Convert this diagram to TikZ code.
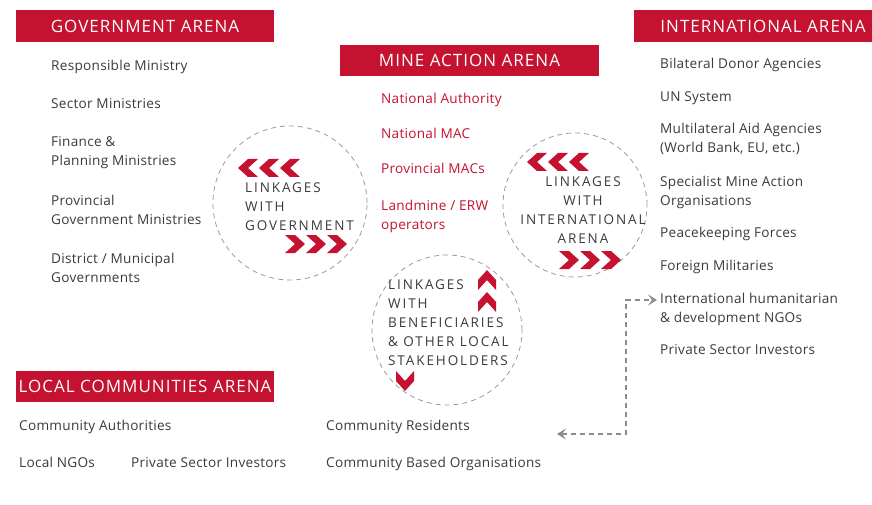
\documentclass[tikz,border=0pt]{standalone}
\usepackage{fontspec}
\setmainfont{Open Sans}
\newfontfamily\hdrfont[LetterSpace=6]{Open Sans}
\newfontfamily\lnkfont[LetterSpace=14]{Open Sans}
\newfontfamily\bodyfont[LetterSpace=2]{Open Sans}
\usetikzlibrary{arrows.meta}
\definecolor{arenared}{HTML}{C41230}
\definecolor{txtgray}{HTML}{3A3A3A}
\definecolor{dashgray}{HTML}{8C8C8C}
\definecolor{circgray}{HTML}{9A9A9A}
\begin{document}
\begin{tikzpicture}[x=1pt,y=-1pt,
  header/.style={fill=arenared, text=white, font=\hdrfont\fontsize{17}{20}\selectfont,
    inner sep=0pt, minimum width=258pt, minimum height=32pt},
  item/.style={anchor=base west, align=left, inner sep=0pt, text=txtgray,
    font=\bodyfont\fontsize{13.6}{19}\selectfont},
  mineitem/.style={item, text=arenared},
  linktext/.style={inner sep=0pt, text=txtgray, font=\lnkfont\fontsize{13.5}{19}\selectfont},
  linkcircle/.style={draw=circgray, line width=0.8pt, dash pattern=on 5pt off 4pt},
  chev/.pic={\fill[arenared] (-10,-9)--(0,-9)--(10,0)--(0,9)--(-10,9)--(0,0)--cycle;},
  dasharrow/.style={draw=dashgray, line width=1.1pt, dash pattern=on 5pt off 4pt,
    {Stealth[length=9pt,width=11pt,inset=4pt]}-{Stealth[length=9pt,width=11pt,inset=4pt]}}
]
\useasboundingbox (0,0) rectangle (872,505);
\clip (0,0) rectangle (872,505);

% headers
\node[header] (govh) at (145,26) {GOVERNMENT ARENA};
\node[header, minimum width=259pt, minimum height=31pt] (mineh) at (469.5,60.5) {MINE ACTION ARENA};
\node[header] (intlh) at (763,26) {INTERNATIONAL ARENA};
\node[header, minimum height=31pt] (localh) at (145,386.5) {LOCAL COMMUNITIES ARENA};

% government items (base = last line)
\node[item] (g1) at (51,71) {Responsible Ministry};
\node[item] (g2) at (51,109) {Sector Ministries};
\node[item] (g3) at (51,166) {Finance \&\\Planning Ministries};
\node[item] (g4) at (51,224) {Provincial\\Government Ministries};
\node[item] (g5) at (51,282) {District / Municipal\\Governments};

% mine action items
\node[mineitem] (m1) at (381,104) {National Authority};
\node[mineitem] (m2) at (381,139) {National MAC};
\node[mineitem] (m3) at (381,174) {Provincial MACs};
\node[mineitem] (m4) at (381,229) {Landmine / ERW\\operators};

% international items
\node[item] (i1) at (660,69) {Bilateral Donor Agencies};
\node[item] (i2) at (660,102) {UN System};
\node[item] (i3) at (660,153) {Multilateral Aid Agencies\\(World Bank, EU, etc.)};
\node[item] (i4) at (660,205) {Specialist Mine Action\\Organisations};
\node[item] (i5) at (660,237) {Peacekeeping Forces};
\node[item] (i6) at (660,270) {Foreign Militaries};
\node[item] (i7) at (660,322) {International humanitarian\\\& development NGOs};
\node[item] (i8) at (660,354) {Private Sector Investors};

% local items
\node[item] (l1) at (19,430) {Community Authorities};
\node[item] (l2) at (19,467) {Local NGOs};
\node[item] (l3) at (131,467) {Private Sector Investors};
\node[item] (l4) at (326,430) {Community Residents};
\node[item] (l5) at (326,467) {Community Based Organisations};

% linkage circles
\node[linkcircle, circle, minimum size=154pt] (cgov) at (290,203) {};
\node[linkcircle, circle, minimum size=144pt] (cintl) at (575,205) {};
\node[linkcircle, circle, minimum size=150pt] (cben) at (447,330) {};

\node[linktext, anchor=west, align=left] (tgov) at (245,207) {LINKAGES\\WITH\\GOVERNMENT};
\node[linktext, align=center] (tintl) at (583,210) {LINKAGES\\WITH\\INTERNATIONAL\\ARENA};
\node[linktext, anchor=west, align=left] (tben) at (388,323) {LINKAGES\\WITH\\BENEFICIARIES\\\& OTHER LOCAL\\STAKEHOLDERS};

% chevrons
\foreach \cx in {248,269,290} \pic[rotate=180] at (\cx,168) {chev};
\foreach \cx in {295,316,337} \pic at (\cx,244) {chev};
\foreach \cx in {537,558,579} \pic[rotate=180] at (\cx,162) {chev};
\foreach \cx in {569,590,611} \pic at (\cx,260) {chev};
\foreach \cy in {280,302} \pic[rotate=90] at (487,\cy) {chev};
\pic[rotate=-90] at (405,381) {chev};

% dashed connector
\coordinate (lend) at (557,434);
\coordinate (rend) at (657,300);
\draw[dasharrow] (lend) -- (626,434) |- (rend);
\end{tikzpicture}
\end{document}
